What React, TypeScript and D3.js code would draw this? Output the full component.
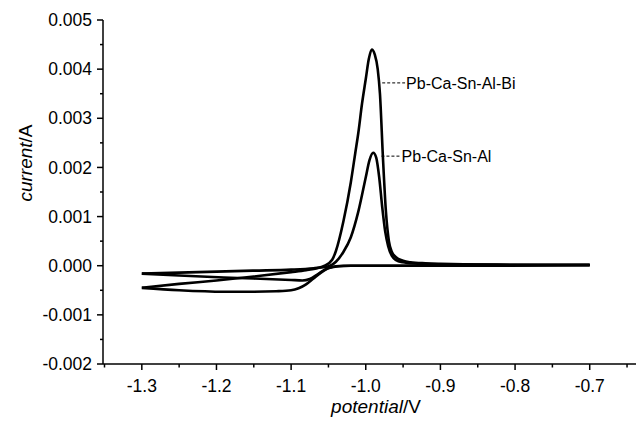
import React from "react";
import * as d3 from "d3";

// ---- data (potential in V, current in A) ----
const biCathodic: [number, number][] = [
  [-1.3, -0.00045], [-1.25, -0.0005], [-1.19, -0.00053], [-1.15, -0.00053], [-1.12, -0.00052],
  [-1.1, -0.0005], [-1.09, -0.00046], [-1.08, -0.00038], [-1.07, -0.00026], [-1.06, -0.00014],
  [-1.05, -0.00005], [-1.04, -0.00001], [-1.03, 0.0], [-1.0, 0.0], [-0.9, 0.0], [-0.8, 0.00001], [-0.7, 0.00002],
];
const biAnodic: [number, number][] = [
  [-1.3, -0.00045], [-1.25, -0.00037], [-1.2, -0.0003], [-1.15, -0.00022], [-1.1, -0.00013],
  [-1.08, -0.00009], [-1.065, -0.00005], [-1.055, 0.0], [-1.045, 0.00012], [-1.04, 0.0003],
  [-1.03, 0.0009], [-1.02, 0.0017], [-1.014, 0.0023], [-1.01, 0.0027], [-1.005, 0.0033],
  [-1.0, 0.0038], [-0.996, 0.0042], [-0.992, 0.0044], [-0.988, 0.0043], [-0.984, 0.004],
  [-0.981, 0.0035], [-0.977, 0.0022], [-0.973, 0.0011], [-0.969, 0.0005], [-0.965, 0.00028],
  [-0.96, 0.00018], [-0.95, 0.0001], [-0.94, 0.00007], [-0.92, 0.00005], [-0.9, 0.00004],
  [-0.8, 0.00002], [-0.7, 0.00002],
];
const alCathodic: [number, number][] = [
  [-1.3, -0.00016], [-1.25, -0.0002], [-1.19, -0.00024], [-1.15, -0.00026], [-1.1, -0.00029],
  [-1.085, -0.0003], [-1.075, -0.00027], [-1.065, -0.00018], [-1.055, -0.00008], [-1.045, -0.00003],
  [-1.035, -0.00001], [-1.02, 0.0], [-0.9, 0.0], [-0.7, 0.00001],
];
const alAnodic: [number, number][] = [
  [-1.3, -0.00016], [-1.2, -0.00012], [-1.15, -0.0001], [-1.1, -0.00008], [-1.07, -0.00005],
  [-1.05, -0.00001], [-1.045, 0.00002], [-1.04, 0.00008], [-1.03, 0.00028], [-1.02, 0.00058],
  [-1.01, 0.0011], [-1.0, 0.0018], [-0.995, 0.00215], [-0.99, 0.0023], [-0.986, 0.0022],
  [-0.982, 0.0018], [-0.978, 0.0012], [-0.974, 0.0007], [-0.97, 0.0004], [-0.965, 0.0002],
  [-0.96, 0.00012], [-0.95, 0.00007], [-0.93, 0.00004], [-0.9, 0.00003], [-0.8, 0.00002], [-0.7, 0.00001],
];

const seriesLabels = ["Pb-Ca-Sn-Al-Bi", "Pb-Ca-Sn-Al"];
// label anchor points: [curve x, label x, current]
const labelAnchors: [number, number, number][] = [
  [-0.978, -0.946, 0.00372],
  [-0.979, -0.952, 0.00223],
];

const xTicks = [-1.3, -1.2, -1.1, -1.0, -0.9, -0.8, -0.7];
const xMinorTicks = [-1.35, -1.25, -1.15, -1.05, -0.95, -0.85, -0.75, -0.65];
const yTicks = [-0.002, -0.001, 0.0, 0.001, 0.002, 0.003, 0.004, 0.005];
const yMinorTicks = [-0.0015, -0.0005, 0.0005, 0.0015, 0.0025, 0.0035, 0.0045];

const FONT = "'Liberation Sans', Arial, Helvetica, sans-serif";

export default function App() {
  const W = 636, H = 423;
  const x = d3.scaleLinear().domain([-1.352, -0.638]).range([103, 636]);
  const y = d3.scaleLinear().domain([-0.002, 0.005]).range([364, 20]);
  const line = d3
    .line<[number, number]>()
    .x((d) => x(d[0]))
    .y((d) => y(d[1]))
    .curve(d3.curveMonotoneX);

  const x0 = x.range()[0];
  const y0 = y.range()[0];
  const fmtX = (v: number) => v.toFixed(1);
  const fmtY = (v: number) => v.toFixed(3);

  const curves = [biCathodic, biAnodic, alCathodic, alAnodic];

  return (
    <svg
      width={W}
      height={H}
      style={{ position: "absolute", left: 0, top: 0, background: "#fff" }}
      fontFamily={FONT}
    >
      <rect width={W} height={H} fill="#fff" />
      {curves.map((c, i) => (
        <path key={i} d={line(c) || ""} fill="none" stroke="#000" strokeWidth={2.6} strokeLinejoin="round" />
      ))}

      {/* annotations */}
      {labelAnchors.map((a, i) => (
        <g key={i}>
          <line
            x1={x(a[0])}
            x2={x(a[1]) - 1}
            y1={y(a[2])}
            y2={y(a[2])}
            stroke="#000"
            strokeWidth={1}
            strokeDasharray="3,2"
          />
          <text x={x(a[1])} y={y(a[2])} dy="0.35em" fontSize={16} fill="#000">
            {seriesLabels[i]}
          </text>
        </g>
      ))}

      {/* y axis */}
      <line x1={x0} x2={x0} y1={y(0.005)} y2={y0} stroke="#000" strokeWidth={1.5} />
      {yTicks.map((t) => (
        <g key={t}>
          <line x1={x0 - 6} x2={x0} y1={y(t)} y2={y(t)} stroke="#000" strokeWidth={1.5} />
          <text x={x0 - 11} y={y(t)} dy="0.35em" textAnchor="end" fontSize={17.5} fill="#000">
            {fmtY(t)}
          </text>
        </g>
      ))}
      {yMinorTicks.map((t) => (
        <line key={t} x1={x0 - 3} x2={x0} y1={y(t)} y2={y(t)} stroke="#000" strokeWidth={1.5} />
      ))}

      {/* x axis */}
      <line x1={x0} x2={x.range()[1]} y1={y0} y2={y0} stroke="#000" strokeWidth={1.5} />
      {xTicks.map((t) => (
        <g key={t}>
          <line x1={x(t)} x2={x(t)} y1={y0} y2={y0 + 6} stroke="#000" strokeWidth={1.5} />
          <text x={x(t)} y={392} textAnchor="middle" fontSize={17.5} fill="#000">
            {fmtX(t)}
          </text>
        </g>
      ))}
      {xMinorTicks.map((t) => (
        <line key={t} x1={x(t)} x2={x(t)} y1={y0} y2={y0 + 3.5} stroke="#000" strokeWidth={1.5} />
      ))}

      {/* axis titles */}
      <text x={376} y={413} textAnchor="middle" fontSize={19} fill="#000">
        <tspan fontStyle="italic">potential</tspan>/V
      </text>
      <text
        transform={`translate(32, 163) rotate(-90)`}
        textAnchor="middle"
        fontSize={19}
        fill="#000"
      >
        <tspan fontStyle="italic">current</tspan>/A
      </text>
    </svg>
  );
}
